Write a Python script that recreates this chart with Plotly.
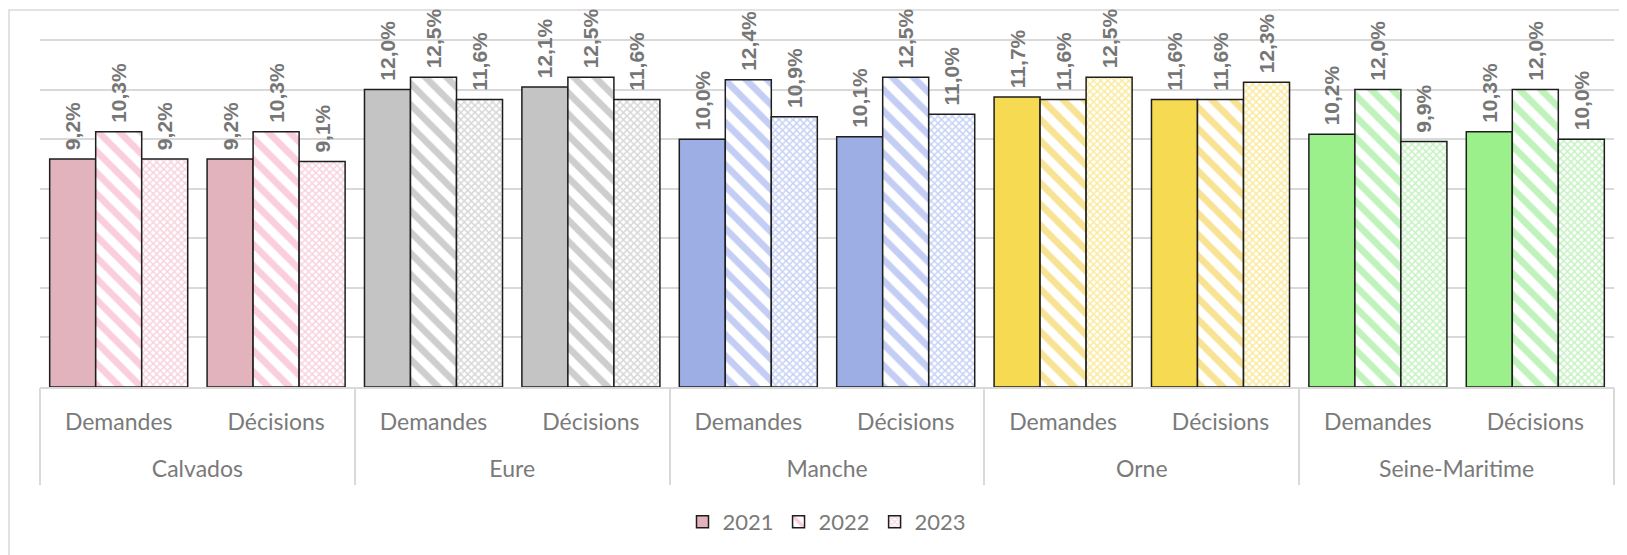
import plotly.graph_objects as go

departements = ["Calvados", "Eure", "Manche", "Orne", "Seine-Maritime"]
types = ["Demandes", "Décisions"]
annees = ["2021", "2022", "2023"]

v2021 = [9.2, 9.2, 12.0, 12.1, 10.0, 10.1, 11.7, 11.6, 10.2, 10.3]
v2022 = [10.3, 10.3, 12.5, 12.5, 12.4, 12.5, 11.6, 11.6, 12.0, 12.0]
v2023 = [9.2, 9.1, 11.6, 11.6, 10.9, 11.0, 12.5, 12.3, 9.9, 10.0]

solid_colors = ["#E3B3BD", "#C4C4C4", "#9CAEE3", "#F6DA52", "#9CF08B"]
stripe_colors = ["#F59DB9", "#9E9E9E", "#8A9EEA", "#F2C629", "#82E67A"]
check_colors = ["#F0A8BD", "#B0B0B0", "#8FA6EC", "#F7D53C", "#8DE585"]

cats = [f"{d} | {t}" for d in departements for t in types]
cat_text = [t for _ in departements for t in types]

def per_bar(cols):
    return [c for c in cols for _ in types]

def fmt(vals):
    return ["\u00a0" + f"{v:.1f}%".replace(".", ",") for v in vals]

label_font = dict(family="Liberation Sans Narrow, Arial Narrow, Liberation Sans, sans-serif",
                  size=21, color="#767676", weight="bold")
outline = dict(color="#1E1E1E", width=1.5)
common = dict(textposition="outside", textangle=-90, textfont=label_font,
              cliponaxis=False, constraintext="none")

fig = go.Figure()
fig.add_trace(go.Bar(
    name=annees[0], x=cats, y=v2021,
    marker=dict(color=per_bar(solid_colors), line=outline),
    text=fmt(v2021), **common,
))
fig.add_trace(go.Bar(
    name=annees[1], x=cats, y=v2022,
    marker=dict(color="white", line=outline,
                pattern=dict(shape="\\", fgcolor=per_bar(stripe_colors), bgcolor="white",
                             size=15, solidity=0.45, fillmode="overlay")),
    text=fmt(v2022), **common,
))
fig.add_trace(go.Bar(
    name=annees[2], x=cats, y=v2023,
    marker=dict(color="white", line=outline,
                pattern=dict(shape="x", fgcolor=per_bar(check_colors), bgcolor="white",
                             size=5, solidity=0.5, fillmode="overlay")),
    text=fmt(v2023), **common,
))
# invisible helper trace so the department axis is drawn
fig.add_trace(go.Scatter(x=[None], y=[None], xaxis="x2", showlegend=False,
                         hoverinfo="skip", mode="markers"))

tick_font = dict(family="Lato, Open Sans, sans-serif", size=23, color="#7A7A7A")

# page body has an 8px margin: figure sized/offset to compensate
fig.update_layout(
    width=1619, height=547,
    margin=dict(l=32, r=13, t=2, b=168),
    paper_bgcolor="white", plot_bgcolor="white",
    barmode="group", bargap=0.123, bargroupgap=0,
    showlegend=True,
    legend=dict(orientation="h", x=0.5, xanchor="center", y=-0.358, yanchor="middle",
                font=dict(family="Lato, Open Sans, sans-serif", size=22, color="#7A7A7A"),
                itemwidth=30, traceorder="normal"),
    xaxis=dict(type="category", categoryorder="array", categoryarray=cats,
               tickvals=cats, ticktext=cat_text, range=[-0.5, len(cats) - 0.5],
               showline=True, linecolor="#D9D9D9", linewidth=1.5,
               tickfont=tick_font, showgrid=False, ticks="",
               ticklabelstandoff=14, automargin=False),
    xaxis2=dict(overlaying="x", anchor="y", side="bottom", type="linear",
                range=[-0.5, len(departements) - 0.5],
                tickvals=list(range(len(departements))), ticktext=departements,
                tickfont=tick_font, showgrid=False, zeroline=False, showline=False,
                ticks="", ticklabelstandoff=66, automargin=False,
                minor=dict(tick0=-0.5, dtick=1, ticks="outside", ticklen=97,
                           tickcolor="#D9D9D9", tickwidth=1.5, showgrid=False)),
    yaxis=dict(range=[0, 15.21], tickvals=[0, 2, 4, 6, 8, 10, 12, 14],
               showticklabels=False, showgrid=True,
               gridcolor="#D9D9D9", gridwidth=1.5, zeroline=False, showline=False,
               automargin=False),
    shapes=[dict(type="rect", xref="paper", yref="paper",
                 x0=-31 / 1574, x1=1.02, y0=-0.55, y1=1.0,
                 line=dict(color="#D9D9D9", width=1.5), fillcolor="rgba(0,0,0,0)",
                 layer="below")],
)

fig.write_html("out.html")
